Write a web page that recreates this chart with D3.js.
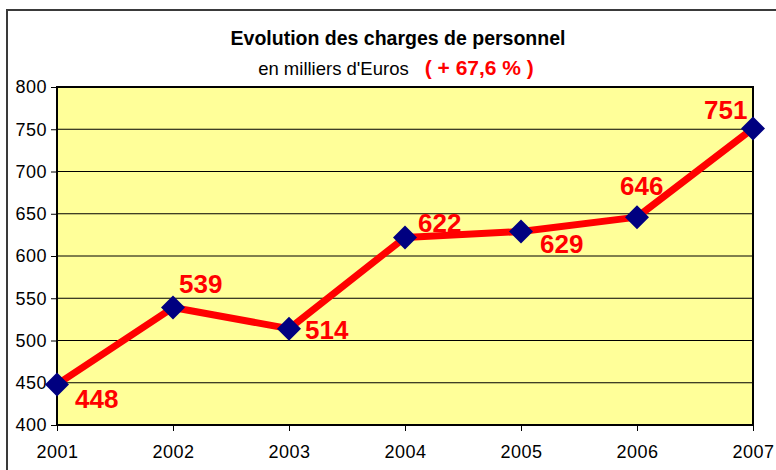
<!DOCTYPE html>
<html lang="fr">
<head>
<meta charset="UTF-8">
<title>Evolution des charges de personnel</title>
<style>
  body { margin: 0; background: #fff; }
  svg { display: block; font-family: Arial, "Liberation Sans", sans-serif; }
</style>
</head>
<body>
<svg width="776" height="470"></svg>
<script src="https://d3js.org/d3.v7.min.js"></script>
<script>
// donnees
const years = [2001, 2002, 2003, 2004, 2005, 2006, 2007];
const charges = [448, 539, 514, 622, 629, 646, 751];
const yTicks = [400, 450, 500, 550, 600, 650, 700, 750, 800];
const title = "Evolution des charges de personnel";
const subtitle = "en milliers d'Euros";
const growth = "( + 67,6 % )";

// placement des etiquettes (dx, dy depuis le point)
const labelPos = [[18, 24], [6, -15], [16, 10], [13, -5], [19, 22], [-17, -22], [-49, -9]];

const svg = d3.select("svg");

// cadre exterieur
svg.append("rect")
  .attr("x", 7).attr("y", 10)
  .attr("width", 790).attr("height", 480)
  .attr("fill", "#fff")
  .attr("stroke", "#3a3a3a")
  .attr("stroke-width", 2);

const x = d3.scaleLinear().domain([2001, 2007]).range([57, 753]);
const y = d3.scaleLinear().domain([400, 800]).range([425, 87]);

// zone de trace
svg.append("rect")
  .attr("x", x(2001)).attr("y", y(800))
  .attr("width", x(2007) - x(2001)).attr("height", y(400) - y(800))
  .attr("fill", "#ffff99");

// grille
svg.append("g")
  .selectAll("line")
  .data(yTicks.slice(1, -1))
  .join("line")
  .attr("x1", x(2001)).attr("x2", x(2007))
  .attr("y1", d => y(d)).attr("y2", d => y(d))
  .attr("stroke", "#000")
  .attr("stroke-width", 1);

svg.append("rect")
  .attr("x", x(2001)).attr("y", y(800))
  .attr("width", x(2007) - x(2001)).attr("height", y(400) - y(800))
  .attr("fill", "none")
  .attr("stroke", "#000")
  .attr("stroke-width", 2);

// axes
const yAxis = d3.axisLeft(y).tickValues(yTicks).tickSize(6).tickPadding(4).tickFormat(d3.format("d"));
const gy = svg.append("g").attr("transform", `translate(${x(2001)},0)`).call(yAxis);
gy.select(".domain").remove();
gy.selectAll("line").attr("stroke", "#000");
gy.selectAll("text")
  .attr("font-size", 18)
  .attr("font-family", "Arial, 'Liberation Sans', sans-serif")
  .attr("letter-spacing", 0.5)
  .attr("fill", "#000");

const xAxis = d3.axisBottom(x).tickValues(years).tickSize(6).tickPadding(14).tickFormat(d3.format("d"));
const gx = svg.append("g").attr("transform", `translate(0,${y(400)})`).call(xAxis);
gx.select(".domain").remove();
gx.selectAll("line").attr("stroke", "#000");
gx.selectAll("text")
  .attr("font-size", 18)
  .attr("font-family", "Arial, 'Liberation Sans', sans-serif")
  .attr("letter-spacing", 0.5)
  .attr("fill", "#000");

// courbe
const pts = years.map((yr, i) => ({ year: yr, value: charges[i], pos: labelPos[i] }));

svg.append("path")
  .datum(pts)
  .attr("fill", "none")
  .attr("stroke", "#ff0000")
  .attr("stroke-width", 7)
  .attr("stroke-linejoin", "round")
  .attr("d", d3.line().x(d => x(d.year)).y(d => y(d.value)));

svg.append("g")
  .selectAll("path")
  .data(pts)
  .join("path")
  .attr("transform", d => `translate(${x(d.year)},${y(d.value)})`)
  .attr("d", "M0,-12L12,0L0,12L-12,0Z")
  .attr("fill", "#000080");

svg.append("g")
  .selectAll("text")
  .data(pts)
  .join("text")
  .attr("x", d => x(d.year) + d.pos[0])
  .attr("y", d => y(d.value) + d.pos[1])
  .attr("font-size", 26)
  .attr("font-weight", "bold")
  .attr("fill", "#ff0000")
  .text(d => d.value);

// titres
svg.append("text")
  .attr("x", 398).attr("y", 45)
  .attr("text-anchor", "middle")
  .attr("font-size", 19.5)
  .attr("font-weight", "bold")
  .text(title);

const sub = svg.append("text")
  .attr("x", 396).attr("y", 75)
  .attr("text-anchor", "middle")
  .attr("font-size", 18.5);
sub.append("tspan").text(subtitle);
sub.append("tspan")
  .attr("dx", 16)
  .attr("fill", "#ff0000")
  .attr("font-weight", "bold")
  .attr("font-size", 21)
  .text(growth);
</script>
</body>
</html>
